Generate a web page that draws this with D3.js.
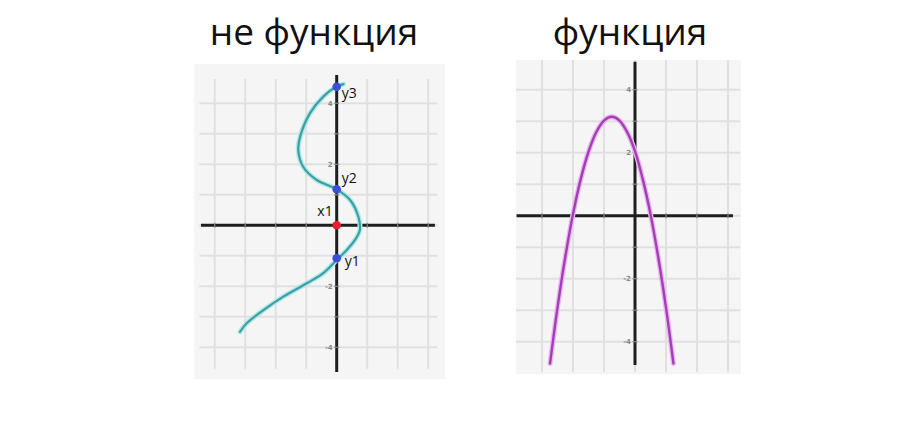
<!DOCTYPE html>
<html><head><meta charset="utf-8">
<script src="https://cdn.jsdelivr.net/npm/d3@7"></script>
<style>html,body{margin:0;padding:0;background:#fff;}svg{display:block;}</style>
</head><body>
<svg id="c" width="923" height="423"></svg>
<script>
// ---- data ----
const titles = ["не функция", "функция"];
const tickValues = [-4, -2, 2, 4];
const tickLabels = ["-4", "-2", "2", "4"];
// left: non-function curve (x, y)
const curveX = [0.22, -0.02, -0.44, -0.88, -1.2, -1.26, -1.1, -0.66, 0, 0.44, 0.71, 0.76, 0.6, 0.33, 0, -0.44, -0.98, -1.75, -2.4, -2.95, -3.17];
const curveY = [4.63, 4.54, 4.22, 3.67, 2.9, 2.47, 1.92, 1.49, 1.18, 0.83, 0.28, -0.15, -0.48, -0.81, -1.14, -1.57, -1.9, -2.34, -2.78, -3.21, -3.49];
const markLabels = ["y3", "y2", "x1", "y1"];
const markX = [0, 0, 0, 0];
const markY = [4.54, 1.18, 0, -1.08];
const markColors = ["#3b4fd6", "#3b4fd6", "#e5202a", "#3b4fd6"];
// right: parabola (x, y)
const parabX = [-2.74, -2.5, -2.25, -2.0, -1.75, -1.5, -1.25, -1.0, -0.75, -0.5, -0.25, 0, 0.25, 0.5, 0.75, 1.0, 1.24];
const parabY = [-4.69, -2.92, -1.32, 0.05, 1.16, 2.03, 2.65, 3.02, 3.14, 3.02, 2.65, 2.05, 1.16, 0.05, -1.32, -2.92, -4.69];

const svg = d3.select("#c");

function panel(cfg) {
  const g = svg.append("g");
  const x = d3.scaleLinear().domain([0, 1]).range([cfg.ox, cfg.ox + cfg.ux]);
  const y = d3.scaleLinear().domain([0, 1]).range([cfg.oy, cfg.oy - cfg.uy]);
  g.append("rect").attr("x", cfg.bx0).attr("y", cfg.by0)
    .attr("width", cfg.bx1 - cfg.bx0).attr("height", cfg.by1 - cfg.by0).attr("fill", "#f5f5f5");
  // grid
  g.selectAll(".vg").data(d3.range(cfg.gx[0], cfg.gx[1] + 1)).join("line")
    .attr("x1", d => x(d)).attr("x2", d => x(d))
    .attr("y1", y(cfg.gvy[0])).attr("y2", y(cfg.gvy[1]))
    .attr("stroke", "#e0e0e0").attr("stroke-width", 2);
  g.selectAll(".hg").data(d3.range(cfg.gy[0], cfg.gy[1] + 1)).join("line")
    .attr("y1", d => y(d)).attr("y2", d => y(d))
    .attr("x1", x(cfg.ghx[0])).attr("x2", x(cfg.ghx[1]))
    .attr("stroke", "#e0e0e0").attr("stroke-width", 2);
  // axes
  g.append("line").attr("x1", x(cfg.ax[0])).attr("x2", x(cfg.ax[1]))
    .attr("y1", y(0)).attr("y2", y(0)).attr("stroke", "#1e1e1e").attr("stroke-width", 3);
  g.append("line").attr("y1", y(cfg.ay[0])).attr("y2", y(cfg.ay[1]))
    .attr("x1", x(0)).attr("x2", x(0)).attr("stroke", "#1e1e1e").attr("stroke-width", 3);
  // small ticks
  g.selectAll(".xt").data(d3.range(cfg.gx[0], cfg.gx[1] + 1).filter(d => d !== 0)).join("line")
    .attr("x1", d => x(d)).attr("x2", d => x(d)).attr("y1", y(0) - 2.5).attr("y2", y(0) + 2.5)
    .attr("stroke", "#888").attr("stroke-width", 1.2);
  g.selectAll(".yt").data(d3.range(cfg.gy[0], cfg.gy[1] + 1).filter(d => d !== 0)).join("line")
    .attr("y1", d => y(d)).attr("y2", d => y(d)).attr("x1", x(0) - 2.5).attr("x2", x(0) + 2.5)
    .attr("stroke", "#888").attr("stroke-width", 1.2);
  // tick labels
  g.selectAll(".tl").data(tickValues).join("text")
    .attr("x", x(0) - 4).attr("y", d => y(d) + 2.5)
    .attr("text-anchor", "end").attr("font-family", "DejaVu Sans").attr("font-size", 7)
    .attr("font-weight", "bold").attr("fill", "#888")
    .text((d, i) => tickLabels[i]);
  // title
  svg.append("text").attr("x", cfg.tx).attr("y", 45).attr("text-anchor", "middle")
    .attr("font-family", "Open Sans").attr("font-size", 37).attr("fill", "#111")
    .text(cfg.title);
  return {g, x, y};
}

// left panel
const L = panel({ox: 336.7, oy: 225.3, ux: 30.5, uy: 30.5,
  bx0: 194, by0: 64, bx1: 445, by1: 379,
  gx: [-4, 3], gy: [-4, 4], gvy: [4.8, -4.7], ghx: [-4.5, 3.3],
  ax: [-4.45, 3.22], ay: [4.93, -4.81], tx: 314, title: titles[0]});
const lineL = d3.line().x((d, i) => L.x(curveX[i])).y((d, i) => L.y(curveY[i])).curve(d3.curveCatmullRom);
L.g.append("path").datum(curveX).attr("d", lineL).attr("fill", "none")
  .attr("stroke", "#b2e8e8").attr("stroke-width", 5).attr("stroke-linecap", "round").attr("stroke-linejoin", "round");
L.g.append("path").datum(curveX).attr("d", lineL).attr("fill", "none")
  .attr("stroke", "#3c9fa3").attr("stroke-width", 2.2).attr("stroke-linecap", "round").attr("stroke-linejoin", "round");
L.g.selectAll(".mk").data(markY).join("circle")
  .attr("cx", (d, i) => L.x(markX[i])).attr("cy", d => L.y(d)).attr("r", 4.3)
  .attr("fill", (d, i) => markColors[i]);
const labelDx = [5, 5, -4, 8];
const labelDy = [11, -6, -9, 8];
L.g.selectAll(".ml").data(markLabels).join("text")
  .attr("x", (d, i) => L.x(markX[i]) + labelDx[i])
  .attr("y", (d, i) => L.y(markY[i]) + labelDy[i])
  .attr("text-anchor", (d, i) => labelDx[i] < 0 ? "end" : "start")
  .attr("font-family", "Open Sans").attr("font-size", 14).attr("fill", "#111")
  .text(d => d);

// right panel
const R = panel({ox: 635, oy: 215.7, ux: 31, uy: 31.5,
  bx0: 516, by0: 60, bx1: 741, by1: 374,
  gx: [-3, 3], gy: [-4, 4], gvy: [4.94, -4.97], ghx: [-3.84, 3.39],
  ax: [-3.82, 3.16], ay: [4.89, -4.74], tx: 630, title: titles[1]});
const lineR = d3.line().x((d, i) => R.x(parabX[i])).y((d, i) => R.y(parabY[i])).curve(d3.curveCatmullRom);
R.g.append("path").datum(parabX).attr("d", lineR).attr("fill", "none")
  .attr("stroke", "#eab6ee").attr("stroke-width", 5).attr("stroke-linecap", "round");
R.g.append("path").datum(parabX).attr("d", lineR).attr("fill", "none")
  .attr("stroke", "#a53cb8").attr("stroke-width", 2.4).attr("stroke-linecap", "round");
</script>
</body></html>
